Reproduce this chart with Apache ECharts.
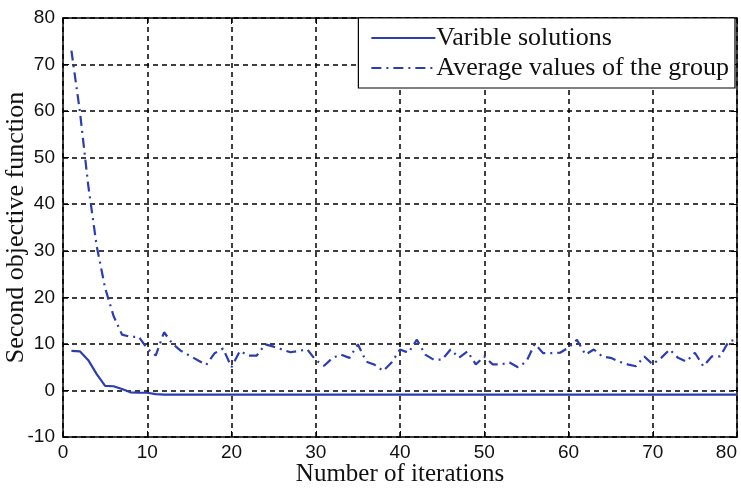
<!DOCTYPE html>
<html>
<head>
<meta charset="utf-8">
<script src="https://cdn.jsdelivr.net/npm/echarts@6/dist/echarts.min.js"></script>
<style>
  html, body { margin: 0; padding: 0; background: #fff; }
  #chart { width: 741px; height: 494px; }
</style>
</head>
<body>
<div id="chart"></div>
<script>
// iteration index 1..80
const iterations = [];
for (let i = 1; i <= 80; i++) iterations.push(i);

const varibleSolutions = [
  8.5, 8.4, 6.5, 3.5, 1.0, 0.9, 0.3, -0.4, -0.5, -0.5,
  -0.8, -0.9, -0.9, -0.9, -0.9, -0.9, -0.9, -0.9, -0.9, -0.9,
  -0.9, -0.9, -0.9, -0.9, -0.9, -0.9, -0.9, -0.9, -0.9, -0.9,
  -0.9, -0.9, -0.9, -0.9, -0.9, -0.9, -0.9, -0.9, -0.9, -0.9,
  -0.9, -0.9, -0.9, -0.9, -0.9, -0.9, -0.9, -0.9, -0.9, -0.9,
  -0.9, -0.9, -0.9, -0.9, -0.9, -0.9, -0.9, -0.9, -0.9, -0.9,
  -0.9, -0.9, -0.9, -0.9, -0.9, -0.9, -0.9, -0.9, -0.9, -0.9,
  -0.9, -0.9, -0.9, -0.9, -0.9, -0.9, -0.9, -0.9, -0.9, -0.9
];

const groupAverages = [
  73, 60, 44, 31, 22, 16, 12, 11.5, 11.5, 9,
  7.5, 12.5, 10, 8.5, 7.5, 6.5, 5.5, 8, 9, 5,
  8.5, 7.5, 7.5, 9.9, 9.4, 8.8, 8.2, 8.5, 8.8, 6.5,
  5.3, 7, 7.7, 7, 9.9, 6.2, 5.5, 4.2, 6, 8.8,
  8.1, 10.9, 7.7, 6.6, 6.6, 8.8, 7, 8.4, 5.6, 7.3,
  5.6, 5.6, 6, 5, 6.2, 10, 8, 8, 8.1, 9.2,
  10.9, 7.7, 8.8, 7.3, 7, 6.2, 5.6, 5.2, 7.3, 5.6,
  7, 8.8, 7, 6.2, 8.1, 5.2, 7.3, 7.3, 10.5, 11
];

const seriesNames = ['Varible solutions', 'Average values of the group'];
const lineColor = '#2c3db0';

const toPairs = (ys) => ys.map((y, i) => [iterations[i], y]);

const chart = echarts.init(document.getElementById('chart'), null, { renderer: 'canvas' });

const gridLine = { show: true, lineStyle: { color: '#000', type: [5, 4], width: 1.5 } };
const frameAxisLine = { show: true, onZero: false, lineStyle: { color: '#000', width: 1.5 } };

chart.setOption({
  backgroundColor: '#fff',
  animation: false,
  grid: { left: 63, right: 4, top: 18, bottom: 57, containLabel: false, outerBoundsMode: 'none' },
  legend: {
    orient: 'vertical',
    right: 6,
    top: 18,
    padding: [7, 6, 7, 12],
    itemGap: 4,
    itemWidth: 64,
    itemHeight: 14,
    backgroundColor: '#fff',
    borderColor: '#000',
    borderWidth: 1.2,
    borderRadius: 0,
    itemStyle: { opacity: 0 },
    textStyle: { fontFamily: 'Liberation Serif', fontSize: 26, color: '#111', padding: [0, 0, 0, -4] },
    data: seriesNames
  },
  xAxis: [
    {
      type: 'value', min: 0, max: 80, interval: 10,
      name: 'Number of iterations', nameLocation: 'middle', nameGap: 25, nameMoveOverlap: false,
      nameTextStyle: { fontFamily: 'Liberation Serif', fontSize: 25, color: '#111' },
      axisLine: frameAxisLine,
      axisTick: { show: true, inside: true, length: 6, lineStyle: { color: '#000' } },
      axisLabel: { fontFamily: 'Liberation Sans', fontSize: 19, color: '#111', margin: 6, alignMaxLabel: 'right' },
      splitLine: gridLine
    },
    {
      type: 'value', min: 0, max: 80, interval: 10, position: 'top',
      axisLine: frameAxisLine,
      axisTick: { show: true, inside: true, length: 6, lineStyle: { color: '#000' } },
      axisLabel: { show: false },
      splitLine: { show: false }
    }
  ],
  yAxis: [
    {
      type: 'value', min: -10, max: 80, interval: 10,
      name: 'Second objective function', nameLocation: 'middle', nameGap: 34, nameMoveOverlap: false,
      nameTextStyle: { fontFamily: 'Liberation Serif', fontSize: 26, color: '#111' },
      axisLine: frameAxisLine,
      axisTick: { show: true, inside: true, length: 6, lineStyle: { color: '#000' } },
      axisLabel: { fontFamily: 'Liberation Sans', fontSize: 19, color: '#111', margin: 8 },
      splitLine: gridLine
    },
    {
      type: 'value', min: -10, max: 80, interval: 10, position: 'right',
      axisLine: frameAxisLine,
      axisTick: { show: true, inside: true, length: 6, lineStyle: { color: '#000' } },
      axisLabel: { show: false },
      splitLine: { show: false }
    }
  ],
  series: [
    {
      name: seriesNames[0],
      type: 'line',
      data: toPairs(varibleSolutions),
      symbol: 'none',
      itemStyle: { color: lineColor },
      lineStyle: { color: lineColor, width: 2.2 }
    },
    {
      name: seriesNames[1],
      type: 'line',
      data: toPairs(groupAverages),
      symbol: 'none',
      itemStyle: { color: lineColor },
      lineStyle: { color: lineColor, width: 2.2, type: [10, 5, 2, 5] }
    }
  ]
});
</script>
</body>
</html>
